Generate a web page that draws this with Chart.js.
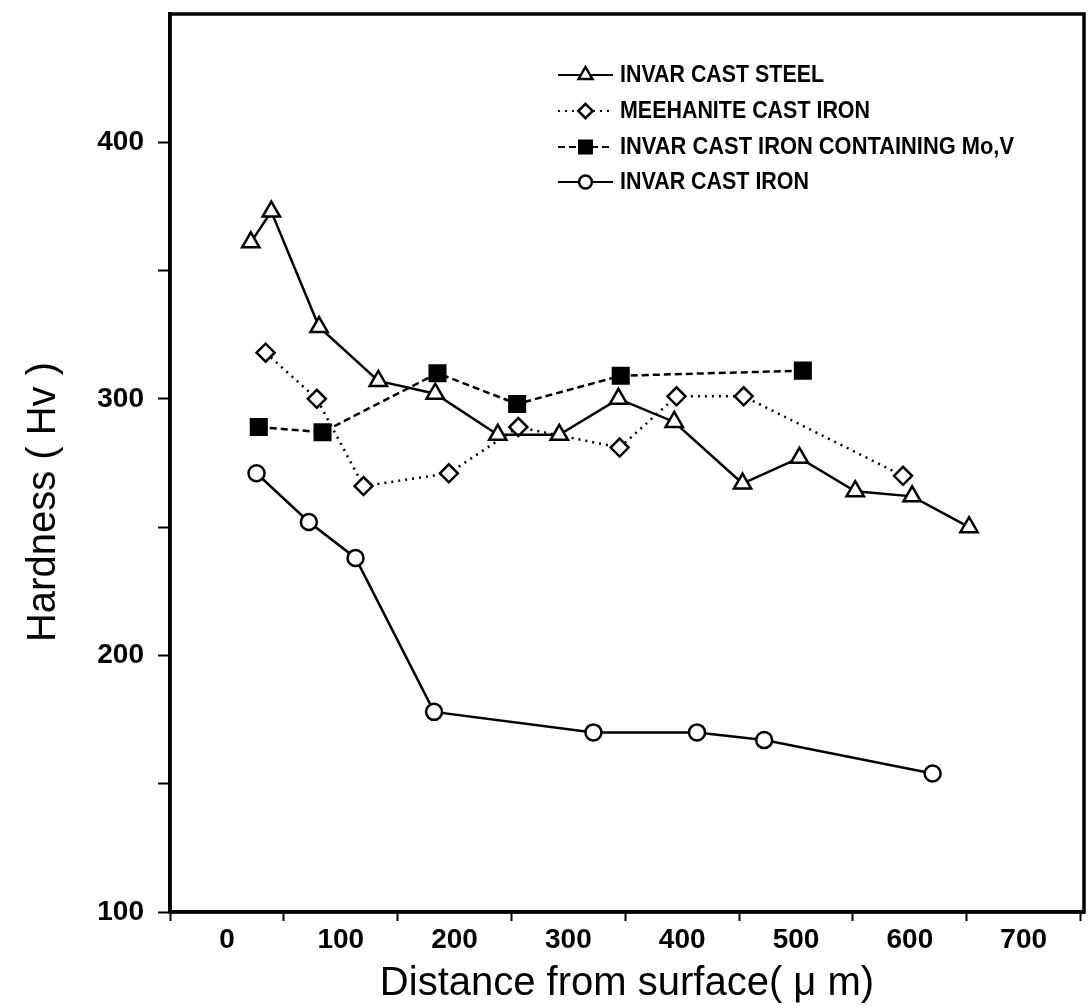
<!DOCTYPE html>
<html>
<head>
<meta charset="utf-8">
<script src="https://cdn.jsdelivr.net/npm/chart.js@4.4.1/dist/chart.umd.min.js"></script>
<style>
  html, body { margin: 0; padding: 0; background: #fff; }
  #wrap { width: 1089px; height: 1008px; position: relative; }
</style>
</head>
<body>
<div id="wrap"><canvas id="hvChart"></canvas></div>
<script>
// hardness profiles (x = distance in um, y = Hv)
const steelX = [21, 39, 81, 133, 183, 238, 292, 344, 393, 453, 503, 552, 602, 652];
const steelY = [361, 373, 328, 307, 302, 286, 286, 300, 291, 267, 277, 264, 262, 250];

const meehX = [34, 79, 120, 195, 256, 345, 395, 454, 594];
const meehY = [318, 300, 266, 271, 289, 281, 301, 301, 270];

const moVX = [28, 84, 185, 255, 346, 506];
const moVY = [289, 287, 310, 298, 309, 311];

const ironX = [26, 72, 113, 182, 322, 413, 472, 620];
const ironY = [271, 252, 238, 178, 170, 170, 167, 154];

const SERIES_NAMES = [
  'INVAR CAST STEEL',
  'MEEHANITE CAST IRON',
  'INVAR CAST IRON CONTAINING Mo,V',
  'INVAR CAST IRON',
];

const X_TICK_LABELS = [0, 100, 200, 300, 400, 500, 600, 700];
const Y_TICK_LABELS = [100, 200, 300, 400];

const FONT = '"Liberation Sans", Arial, sans-serif';

function pts(xs, ys) {
  return xs.map((x, i) => ({ x: x, y: ys[i] }));
}

const seriesStyle = [
  { pointStyle: 'triangle', radius: 10, fill: '#fff', dash: [] },
  { pointStyle: 'rectRot', radius: 9, fill: '#fff', dash: [2, 5] },
  { pointStyle: 'rect', radius: 11, fill: '#000', dash: [7, 4] },
  { pointStyle: 'circle', radius: 8, fill: '#fff', dash: [] },
];

const seriesData = [pts(steelX, steelY), pts(meehX, meehY), pts(moVX, moVY), pts(ironX, ironY)];

const datasets = seriesData.map((d, i) => ({
  label: SERIES_NAMES[i],
  data: d,
  borderColor: '#000',
  borderWidth: 2.5,
  borderDash: seriesStyle[i].dash,
  pointStyle: seriesStyle[i].pointStyle,
  pointRadius: seriesStyle[i].radius,
  pointBackgroundColor: seriesStyle[i].fill,
  pointBorderColor: '#000',
  pointBorderWidth: 2.5,
  tension: 0,
  fill: false,
}));

// legend drawn inside the plot, line sample + marker + condensed bold text
const legendLayout = {
  rowsY: [75, 111, 147, 182],
  sampleX0: 558,
  sampleX1: 613,
  textX: 620,
  textW: [204, 250, 394, 189],
};

function drawMarker(c, style, x, y) {
  const r = style.radius;
  c.save();
  c.lineWidth = 2.5;
  c.strokeStyle = '#000';
  c.fillStyle = style.fill;
  c.setLineDash([]);
  c.beginPath();
  if (style.pointStyle === 'triangle') {
    c.moveTo(x, y - r);
    c.lineTo(x + r * 0.866, y + r * 0.5);
    c.lineTo(x - r * 0.866, y + r * 0.5);
    c.closePath();
  } else if (style.pointStyle === 'rectRot') {
    c.moveTo(x, y - r);
    c.lineTo(x + r, y);
    c.lineTo(x, y + r);
    c.lineTo(x - r, y);
    c.closePath();
  } else if (style.pointStyle === 'rect') {
    const s = r * Math.SQRT1_2;
    c.rect(x - s, y - s, 2 * s, 2 * s);
  } else {
    c.arc(x, y, r, 0, Math.PI * 2);
  }
  c.fill();
  c.stroke();
  c.restore();
}

const framePlugin = {
  id: 'frameAndLegend',
  afterDraw(chart) {
    const c = chart.ctx;
    const a = chart.chartArea;
    c.save();
    c.strokeStyle = '#000';
    c.lineWidth = 3.5;
    c.strokeRect(a.left, a.top, a.right - a.left, a.bottom - a.top);
    c.restore();

    // y axis title, sits a bit below the axis middle as in the original
    c.save();
    c.fillStyle = '#000';
    c.font = '40px ' + FONT;
    c.textAlign = 'center';
    c.textBaseline = 'middle';
    c.translate(44, 502);
    c.rotate(-Math.PI / 2);
    c.fillText('Hardness ( Hv )', 0, 0);
    c.restore();

    SERIES_NAMES.forEach((name, i) => {
      const y = legendLayout.rowsY[i];
      const st = seriesStyle[i];
      const mid = (legendLayout.sampleX0 + legendLayout.sampleX1) / 2;
      c.save();
      c.strokeStyle = '#000';
      c.lineWidth = 2;
      c.setLineDash(st.dash);
      c.beginPath();
      c.moveTo(legendLayout.sampleX0, y);
      c.lineTo(legendLayout.sampleX1, y);
      c.stroke();
      c.restore();
      drawMarker(c, { pointStyle: st.pointStyle, radius: st.radius * 0.8, fill: st.fill }, mid, y);

      c.save();
      c.fillStyle = '#000';
      c.font = 'bold 23px ' + FONT;
      c.textAlign = 'left';
      c.textBaseline = 'middle';
      c.fillText(name, legendLayout.textX, y + 1, legendLayout.textW[i]);
      c.restore();
    });
  }
};

new Chart(document.getElementById('hvChart').getContext('2d'), {
  type: 'line',
  data: { datasets: datasets },
  plugins: [framePlugin],
  options: {
    responsive: true,
    maintainAspectRatio: false,
    animation: false,
    layout: { autoPadding: false, padding: { top: 14, right: 5, left: 0, bottom: 0 } },
    plugins: {
      legend: { display: false },
      tooltip: { enabled: false },
    },
    scales: {
      x: {
        type: 'linear',
        min: -50,
        max: 753,
        afterBuildTicks(scale) {
          const t = [];
          for (let v = -50; v <= 750; v += 50) t.push({ value: v });
          scale.ticks = t;
        },
        afterFit(scale) {
          scale.height = 96;
          scale.paddingLeft = 0;
          scale.paddingRight = 0;
        },
        border: { display: true, color: '#000', width: 3.5 },
        grid: {
          drawOnChartArea: false,
          drawTicks: true,
          tickLength: 9,
          tickWidth: 2,
          tickColor: ctx => (ctx.tick && ctx.tick.value % 100 !== 0) ? '#000' : 'rgba(0,0,0,0)',
        },
        ticks: {
          autoSkip: false,
          maxRotation: 0,
          padding: 2,
          color: '#000',
          font: { family: FONT, size: 28, weight: 'bold' },
          callback: v => X_TICK_LABELS.includes(v) ? String(v) : '',
        },
        title: {
          display: true,
          text: 'Distance from surface( μ m)',
          color: '#000',
          font: { family: FONT, size: 40 },
          padding: { top: 0, bottom: 0 },
        },
      },
      y: {
        type: 'linear',
        min: 100,
        max: 450,
        afterBuildTicks(scale) {
          const t = [];
          for (let v = 100; v <= 400; v += 50) t.push({ value: v });
          scale.ticks = t;
        },
        afterFit(scale) {
          scale.width = 170;
          scale.paddingTop = 0;
          scale.paddingBottom = 0;
        },
        border: { display: true, color: '#000', width: 3.5 },
        grid: {
          drawOnChartArea: false,
          drawTicks: true,
          tickLength: 12,
          tickWidth: 2,
          tickColor: '#000',
        },
        ticks: {
          autoSkip: false,
          padding: 14,
          color: '#000',
          font: { family: FONT, size: 28, weight: 'bold' },
          callback: v => Y_TICK_LABELS.includes(v) ? String(v) : '',
        },
        title: { display: false },
      },
    },
  },
});
</script>
</body>
</html>
